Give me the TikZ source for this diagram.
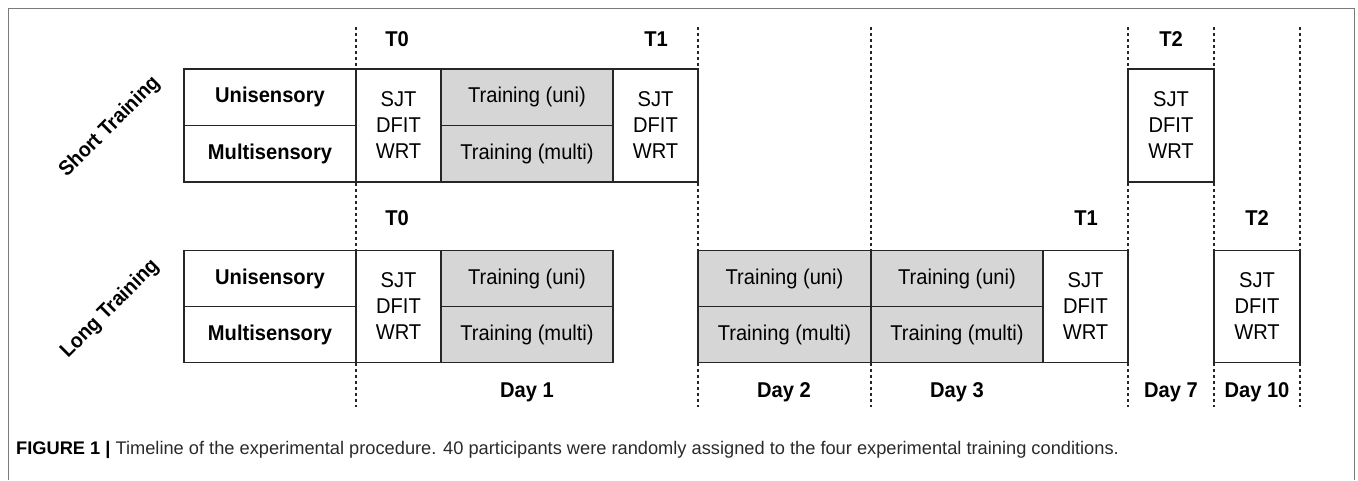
\documentclass[tikz,border=0pt]{standalone}
\usepackage{fontspec}
\setmainfont{Liberation Sans}[FakeStretch=0.94]
\newfontfamily\capfont{Liberation Sans}
\definecolor{trainfill}{HTML}{D6D6D6}
\definecolor{framegray}{HTML}{7A7A7A}
\definecolor{captext}{HTML}{2A2A2A}
\tikzset{
  cell/.style={draw=black!85, line width=1.4pt, inner sep=0pt, outer sep=0pt,
    anchor=north west, font=\fontsize{21.4}{26}\selectfont, align=center},
  groupcell/.style={cell, font=\bfseries\fontsize{21.4}{26}\selectfont},
  traincell/.style={cell, fill=trainfill},
  testcell/.style={cell},
  timemark/.style={font=\bfseries\fontsize{21.4}{24}\selectfont, inner sep=0pt},
  rowtitle/.style={font=\bfseries\fontsize{20.8}{22}\selectfont, rotate=45, inner sep=0pt},
  divider/.style={line width=1.3pt, black!85, dash pattern=on 3pt off 3pt}
}
\newcommand{\cellat}[6]{% style, name, x0, y0, x1, y1
  \node[#1, minimum width={(#5-#3)*1pt}, minimum height={(#6-#4)*1pt}] (#2) at (#3,#4)}
\begin{document}
\begin{tikzpicture}[x=1pt, y=-1pt]
\useasboundingbox (0,0) rectangle (1358,480);

% outer frame (open at the bottom edge of the page)
\draw[framegray, line width=1pt] (8,480) -- (8,8) -- (1354,8) -- (1354,480);

% vertical time dividers
\foreach \xx/\nm in {356/da,698/db,871/dc,1128/dd,1214/de,1300/df}{
  \coordinate (\nm top) at (\xx,27);
  \coordinate (\nm bot) at (\xx,407);
  \draw[divider] (\nm top) -- (\nm bot);
}

% ---------- Short training ----------
\cellat{groupcell}{suni}{184}{69}{356}{125.5} {Unisensory};
\cellat{groupcell}{smul}{184}{125.5}{356}{182} {Multisensory};
\cellat{testcell}{st0}{356}{69}{441}{182} {SJT\\DFIT\\WRT};
\cellat{traincell}{stru}{441}{69}{613}{125.5} {Training (uni)};
\cellat{traincell}{strm}{441}{125.5}{613}{182} {Training (multi)};
\cellat{testcell}{st1}{613}{69}{698}{182} {SJT\\DFIT\\WRT};
\cellat{testcell}{st2}{1128}{69}{1214}{182} {SJT\\DFIT\\WRT};

\node[timemark] (sT0) at (397,39) {T0};
\node[timemark] (sT1) at (656,39) {T1};
\node[timemark] (sT2) at (1171,39) {T2};

\node[rowtitle] (stitle) at (110,127) {Short Training};

% ---------- Long training ----------
\cellat{groupcell}{luni}{184}{250.5}{356}{306.5} {Unisensory};
\cellat{groupcell}{lmul}{184}{306.5}{356}{362.5} {Multisensory};
\cellat{testcell}{lt0}{356}{250.5}{441}{362.5} {SJT\\DFIT\\WRT};
\cellat{traincell}{lau}{441}{250.5}{613}{306.5} {Training (uni)};
\cellat{traincell}{lam}{441}{306.5}{613}{362.5} {Training (multi)};
\cellat{traincell}{lbu}{698}{250.5}{871}{306.5} {Training (uni)};
\cellat{traincell}{lbm}{698}{306.5}{871}{362.5} {Training (multi)};
\cellat{traincell}{lcu}{871}{250.5}{1043}{306.5} {Training (uni)};
\cellat{traincell}{lcm}{871}{306.5}{1043}{362.5} {Training (multi)};
\cellat{testcell}{lt1}{1043}{250.5}{1128}{362.5} {SJT\\DFIT\\WRT};
\cellat{testcell}{lt2}{1214}{250.5}{1300}{362.5} {SJT\\DFIT\\WRT};

\node[timemark] (lT0) at (397,218) {T0};
\node[timemark] (lT1) at (1086,218) {T1};
\node[timemark] (lT2) at (1257,218) {T2};

\node[rowtitle] (ltitle) at (110,309) {Long Training};

% day labels
\node[timemark] (d1) at (527,392) {Day 1};
\node[timemark] (d2) at (784,392) {Day 2};
\node[timemark] (d3) at (957,392) {Day 3};
\node[timemark] (d7) at (1171,392) {Day 7};
\node[timemark] (d10) at (1257,392) {Day 10};

% caption
\node[anchor=west, inner sep=0pt, text=captext, font=\capfont\fontsize{18.25}{21}\selectfont] (cap) at (16,450)
  {\textcolor{black}{\textbf{FIGURE 1 |}} Timeline of the experimental procedure. 40 participants were randomly assigned to the four experimental training conditions.};
\end{tikzpicture}
\end{document}
